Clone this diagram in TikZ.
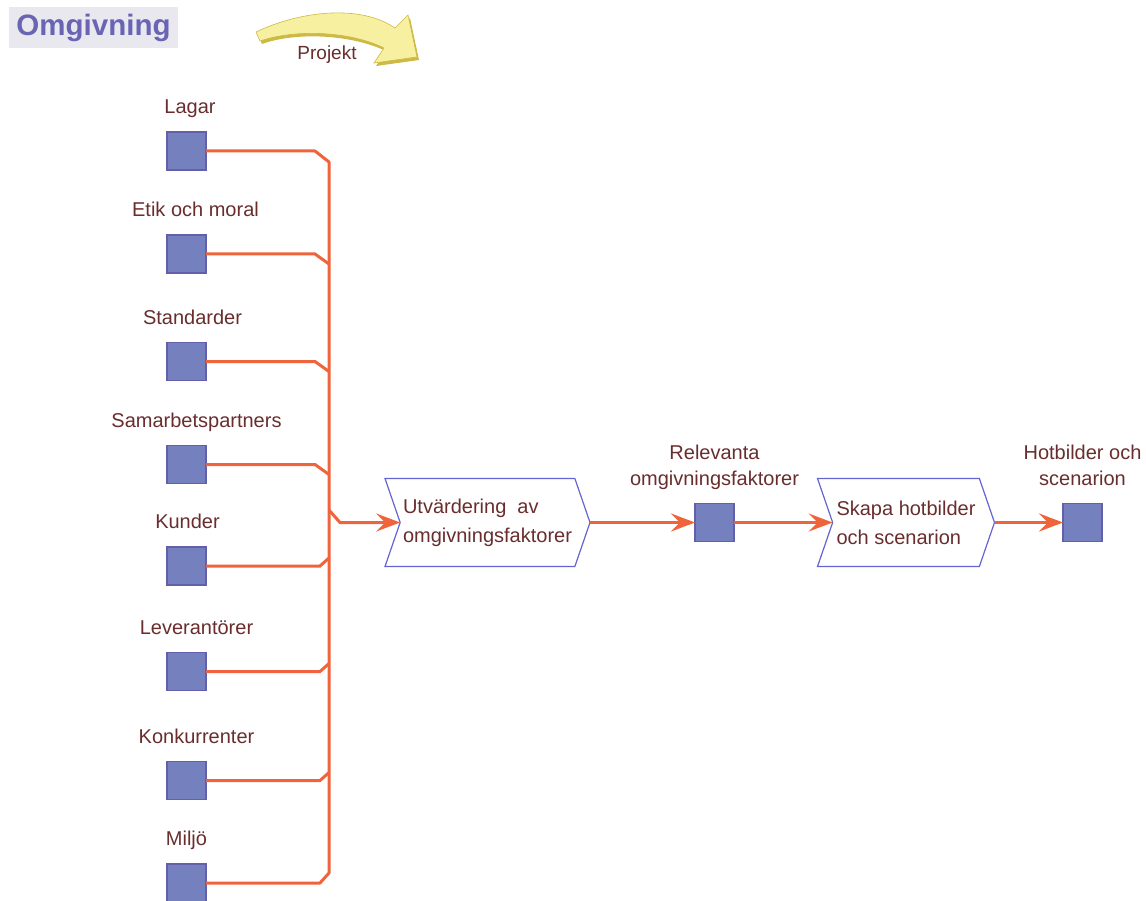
\documentclass[tikz,border=0pt]{standalone}
\usepackage{fontspec}
\setmainfont{Liberation Sans}
\usetikzlibrary{shapes.symbols,arrows.meta}
\definecolor{txt}{RGB}{105,45,45}
\definecolor{wirec}{RGB}{240,100,60}
\definecolor{boxfill}{RGB}{117,128,190}
\definecolor{boxline}{RGB}{100,95,170}
\definecolor{chev}{RGB}{100,100,210}
\definecolor{titlefg}{RGB}{105,100,180}
\definecolor{titlebg}{RGB}{232,232,238}
\definecolor{arrowfill}{RGB}{246,240,160}
\definecolor{arrowedge}{RGB}{205,185,70}
\begin{document}
\begin{tikzpicture}[x=1pt,y=-1pt,
  item/.style={draw=boxline, fill=boxfill, line width=1.2pt, minimum width=39pt,
    minimum height=38pt, inner sep=0pt, outer sep=0pt},
  tag/.style={anchor=south, inner sep=0pt, text depth=0pt, text=txt,
    font=\fontsize{20}{26}\selectfont, align=center},
  proc/.style={draw=chev, line width=1.2pt, signal, signal from=west, signal to=east,
    signal pointer angle=142, minimum height=88pt,
    inner sep=0pt, outer sep=0pt, text=txt, font=\fontsize{20}{29}\selectfont, align=left},
  wire/.style={draw=wirec, line width=3pt},
  flow/.style={wire, -{Stealth[length=24pt,width=18pt,inset=9pt]}}
]
\useasboundingbox (0,0) rectangle (1146,901);

% title
\node[fill=titlebg, minimum width=169pt, minimum height=41pt, inner sep=0pt,
  font=\bfseries\fontsize{29.5}{31}\selectfont, text=titlefg] (title) at (93.5,27.5) {Omgivning};

% curved project arrow
\path[fill=arrowedge]
  (258,35) .. controls (300,14) and (360,6) .. (397,31)
  -- (410,18) -- (419,60) -- (376,66) -- (386,51)
  .. controls (350,34) and (295,32) .. (262,44) -- cycle;
\path[fill=arrowfill, draw=arrowedge, line width=0.6pt]
  (256,32) .. controls (300,11) and (360,4) .. (395,28)
  -- (408,15) -- (417,57) -- (374,63) -- (384,48)
  .. controls (350,31) and (295,29) .. (260,41) -- cycle;
\node[text=txt, font=\fontsize{19}{22}\selectfont, inner sep=0pt] (projekt) at (327,55) {Projekt};

% input factors
\node[item] (lagar) at (186.5,151) {};
\node[item] (etik)  at (186.5,254) {};
\node[item] (std)   at (186.5,361.5) {};
\node[item] (samarb) at (186.5,464.5) {};
\node[item] (kunder) at (186.5,566) {};
\node[item] (lev)   at (186.5,671.5) {};
\node[item] (konk)  at (186.5,780.5) {};
\node[item] (miljo) at (186.5,883) {};

\node[tag] at ([shift={(3.5,-18)}]lagar.north) {Lagar};
\node[tag] at ([shift={(9,-18)}]etik.north) {Etik och moral};
\node[tag] at ([shift={(6,-18)}]std.north) {Standarder};
\node[tag] at ([shift={(10,-18)}]samarb.north) {Samarbetspartners};
\node[tag] at ([shift={(1,-18)}]kunder.north) {Kunder};
\node[tag] at ([shift={(10,-18)}]lev.north) {Leverantörer};
\node[tag] at ([shift={(10,-18)}]konk.north) {Konkurrenter};
\node[tag] at ([yshift=18pt]miljo.north) {Miljö};

% process chain
\node[proc, minimum width=205pt] (utv) at (487.5,522.5) {Utvärdering~~av\\omgivningsfaktorer};
\node[item] (rel) at (714.5,522.5) {};
\node[tag] at ([yshift=18pt]rel.north) {Relevanta\\omgivningsfaktorer};
\node[proc, minimum width=177pt] (skapa) at (906,522.5) {Skapa hotbilder\\och scenarion};
\node[item] (hot) at (1082.5,522.5) {};
\node[tag] at ([yshift=18pt]hot.north) {Hotbilder och\\scenarion};

% collecting bus
\coordinate (branch) at (329,510);
\draw[wire, line join=round] (lagar.east) -- ++(109,0) -- ++(14,11)
  -- ([shift={(123,-10)}]miljo.east) -- ++(-9,10) -- (miljo.east);
\draw[wire] (etik.east) -- ++(109,0) -- ++(14,10);
\draw[wire] (std.east) -- ++(109,0) -- ++(14,10);
\draw[wire] (samarb.east) -- ++(109,0) -- ++(14,10);
\draw[wire] (kunder.east) -- ++(114,0) -- ++(9,-8);
\draw[wire] (lev.east) -- ++(114,0) -- ++(9,-8);
\draw[wire] (konk.east) -- ++(114,0) -- ++(9,-8);

\draw[flow] (branch) -- ++(11,12.5) -- (utv.west);
\draw[flow] (utv.east) -- (rel.west);
\draw[flow] (rel.east) -- (skapa.west);
\draw[flow] (skapa.east) -- (hot.west);
\end{tikzpicture}
\end{document}
